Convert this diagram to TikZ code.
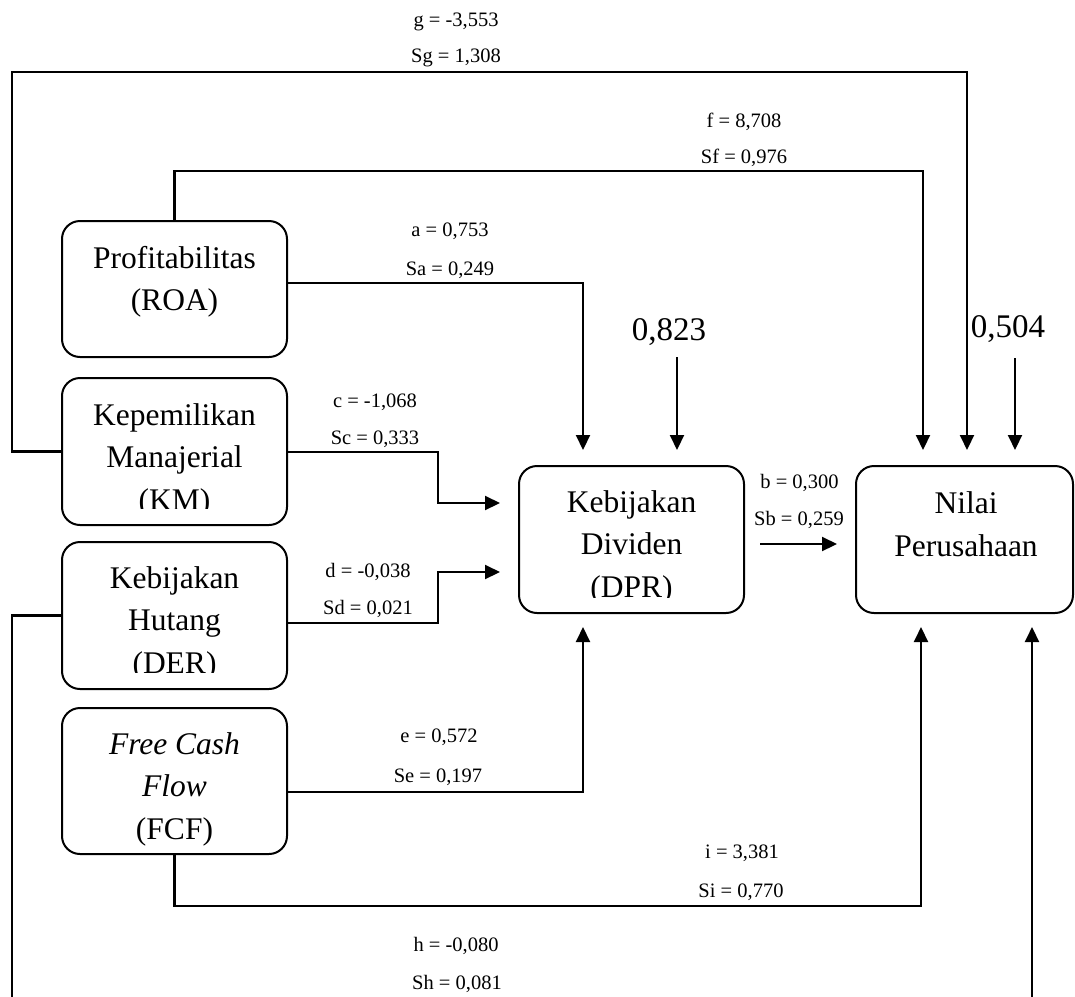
\documentclass[tikz,border=0pt]{standalone}
\usepackage{fontspec}
\setmainfont{Liberation Serif}
\usetikzlibrary{arrows.meta}
\begin{document}
\begin{tikzpicture}[x=1pt,y=-1pt,
  box/.style={draw,line width=2pt,rounded corners=18pt,minimum width=225pt,minimum height=147pt,inner sep=0pt},
  big/.style={font=\fontsize{31.5}{42.5}\selectfont,align=center,inner sep=0pt},
  lab/.style={font=\fontsize{20.5}{22}\selectfont,anchor=base,inner sep=0pt},
  num/.style={font=\fontsize{33}{36}\selectfont,anchor=base,inner sep=0pt},
  con/.style={line width=2.1pt},
  arr/.style={con,-{Triangle[length=15pt,width=14pt]}}]
\clip (0,0) rectangle (1075,996);
% boxes
\node[box,minimum height=136pt] (roa) at (174.5,289) {};
\node[box] (km) at (174.5,451.5) {};
\node[box] (der) at (174.5,615.5) {};
\node[box,minimum height=146pt] (fcf) at (174.5,781) {};
\node[box] (dpr) at (631.5,539.5) {};
\node[box,minimum width=217pt] (nilai) at (964.5,539.5) {};
% box texts
\node[big] (troa) at (174.5,282) {Profitabilitas\\(ROA)};
\begin{scope}
\clip (60,380) rectangle (290,508);
\node[big] (tkm) at (174.5,460) {Kepemilikan\\Manajerial\\(KM)};
\end{scope}
\begin{scope}
\clip (60,545) rectangle (290,672);
\node[big] (tder) at (174.5,623) {Kebijakan\\Hutang\\(DER)};
\end{scope}
\begin{scope}
\clip (521,468) rectangle (742,597);
\node[big] (tdpr) at (631.5,547) {Kebijakan\\Dividen\\(DPR)};
\end{scope}
\node[big] (tnilai) at (966,524) {Nilai\\Perusahaan};
\node[big] (tfcf) at (174.5,789) {\textit{Free Cash}\\\textit{Flow}\\(FCF)};
% coordinates
\coordinate (g1) at (12,72);
\coordinate (g2) at (967,72);
\coordinate (f1) at (923,171);
\coordinate (a1) at (583,283);
\coordinate (c1) at (438,452);
\coordinate (c2) at (438,503);
\coordinate (d1) at (438,623);
\coordinate (d2) at (438,572);
\coordinate (e1) at (583,792);
\coordinate (b1) at (759,544);
\coordinate (i2) at (921,906);
\coordinate (h1) at (12,1005);
\coordinate (h2) at (1032,1005);
\coordinate (r1) at (677,357);
\coordinate (r2) at (1015,358);
% connectors
\draw[arr,shorten >=15pt] (km.west) -| (g1) -- (g2) -- (g2 |- nilai.north);
\draw[arr,shorten >=15pt] (roa.north) |- (f1) -- (f1 |- nilai.north);
\draw[arr,shorten >=15pt] (roa.east |- a1) -- (a1) -- (a1 |- dpr.north);
\draw[arr,shorten >=15pt] (r1) -- (r1 |- dpr.north);
\draw[arr,shorten >=15pt] (r2) -- (r2 |- nilai.north);
\draw[arr,shorten >=18pt] (km.east |- c1) -- (c1) -- (c2) -- (c2 -| dpr.west);
\draw[arr,shorten >=18pt] (der.east |- d1) -- (d1) -- (d2) -- (d2 -| dpr.west);
\draw[arr,shorten >=13pt] (fcf.east |- e1) -- (e1) -- (e1 |- dpr.south);
\draw[arr,shorten <=15pt,shorten >=18pt] (dpr.east |- b1) -- (b1 -| nilai.west);
\draw[arr,shorten >=13pt] (fcf.south) |- (i2) -- (i2 |- nilai.south);
\draw[arr,shorten >=13pt] (der.west) -| (h1) -- (h2) -- (h2 |- nilai.south);
% labels
\node[num] (n823) at (669,340) {0,823};
\node[num] (n504) at (1008,337) {0,504};
\node[lab] (lg) at (456,26) {g = -3,553};
\node[lab] (lsg) at (456,62) {Sg = 1,308};
\node[lab] (lf) at (744,127) {f = 8,708};
\node[lab] (lsf) at (744,163) {Sf = 0,976};
\node[lab] (la) at (450,236) {a = 0,753};
\node[lab] (lsa) at (450,275) {Sa = 0,249};
\node[lab] (lc) at (375,407) {c = -1,068};
\node[lab] (lsc) at (375,444) {Sc = 0,333};
\node[lab] (ld) at (368,577) {d = -0,038};
\node[lab] (lsd) at (368,614) {Sd = 0,021};
\node[lab] (lb) at (799.5,488) {b = 0,300};
\node[lab] (lsb) at (799,525) {Sb = 0,259};
\node[lab] (le) at (439,742) {e = 0,572};
\node[lab] (lse) at (438,782) {Se = 0,197};
\node[lab] (li) at (742,858) {i = 3,381};
\node[lab] (lsi) at (741,897) {Si = 0,770};
\node[lab] (lh) at (456,951) {h = -0,080};
\node[lab] (lsh) at (457,989) {Sh = 0,081};
\end{tikzpicture}
\end{document}
